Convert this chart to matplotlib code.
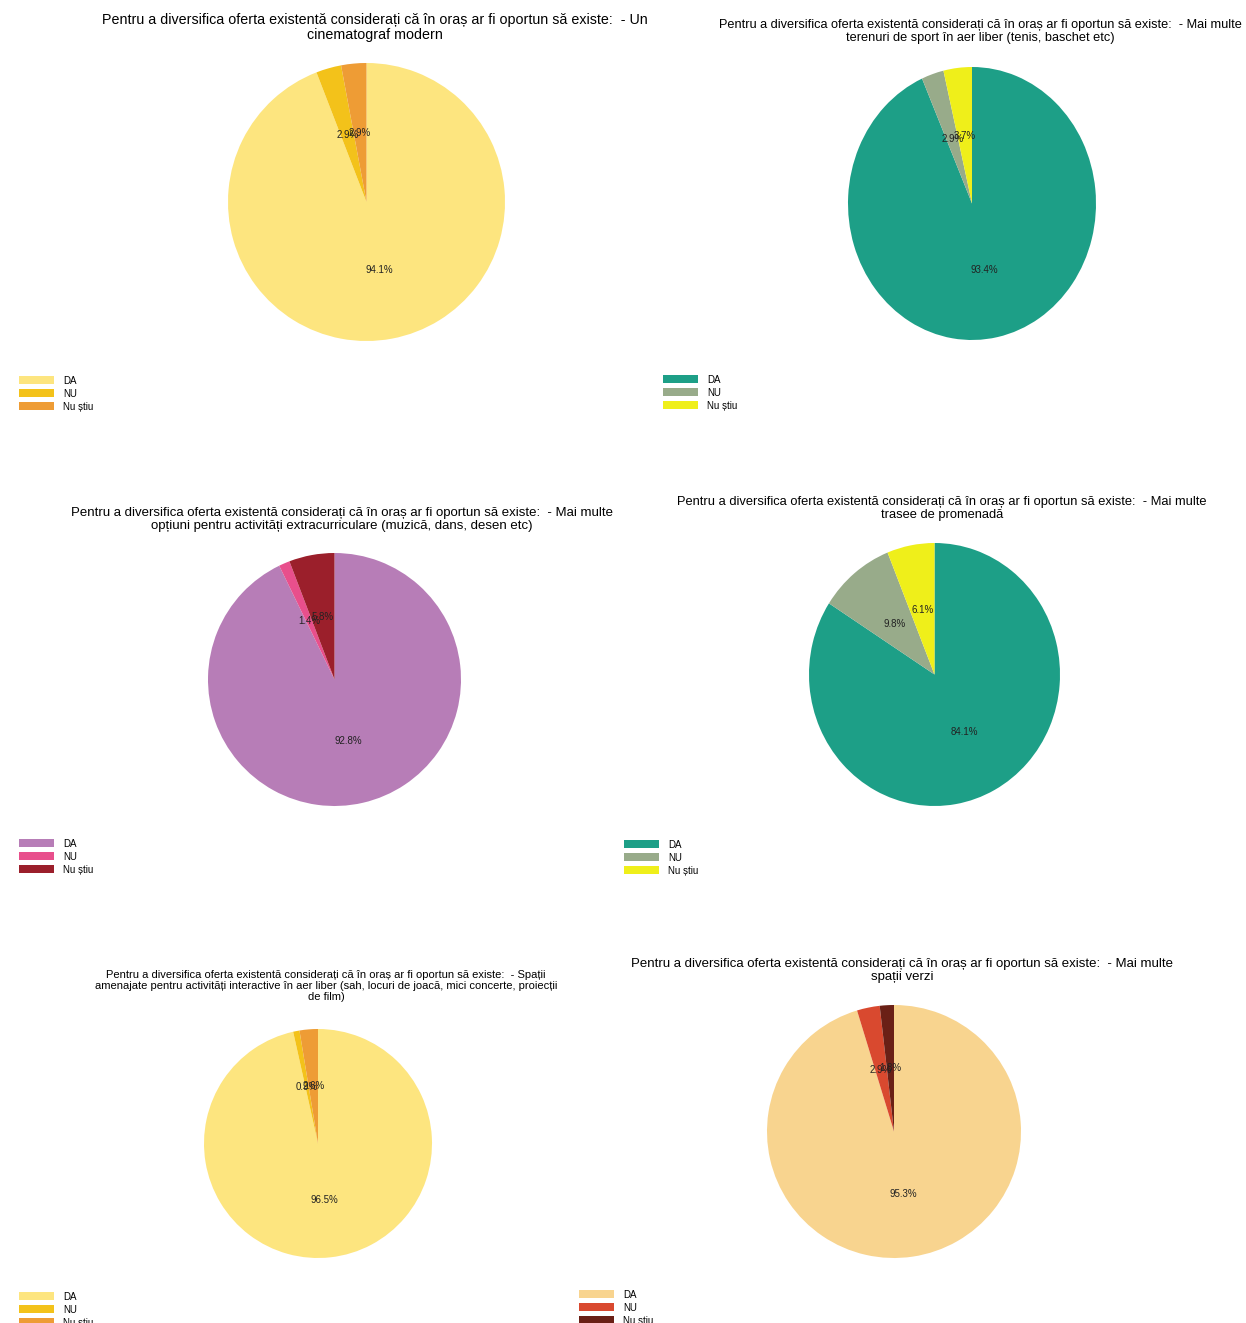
import matplotlib
matplotlib.use("Agg")
import matplotlib.pyplot as plt

W, H = 1246, 1323

labels = ["DA", "NU", "Nu știu"]

q = "Pentru a diversifica oferta existentă considerați că în oraș ar fi oportun să existe:  - "
titles = [
    q + "Un\ncinematograf modern",
    q + "Mai multe\nterenuri de sport în aer liber (tenis, baschet etc)",
    q + "Mai multe\nopțiuni pentru activități extracurriculare (muzică, dans, desen etc)",
    q + "Mai multe\ntrasee de promenadă",
    q + "Spații\namenajate pentru activități interactive în aer liber (sah, locuri de joacă, mici concerte, proiecții\nde film)",
    q + "Mai multe\nspații verzi",
]

vals_cinema = [32, 1, 1]
vals_sport = [93.4, 2.9, 3.7]
vals_extra = [92.8, 1.4, 5.8]
vals_promenada = [84.1, 9.8, 6.1]
vals_interactive = [96.5, 0.9, 2.6]
vals_verzi = [95.3, 2.9, 1.8]
all_vals = [vals_cinema, vals_sport, vals_extra, vals_promenada, vals_interactive, vals_verzi]

yellows = ["#fde57f", "#f3c21a", "#ee9c35"]
teals = ["#1d9f87", "#98ab8a", "#efef1a"]
purples = ["#b77db7", "#e84f8c", "#9b1f2b"]
oranges = ["#f8d48f", "#d9492f", "#6a2016"]
palettes = [yellows, teals, purples, teals, yellows, oranges]

# pixel layout: pie box (left, top, width, height), title (x, top), legend (x, top)
pie_box = [(228, 63, 277, 278), (848, 67, 248, 273), (208, 553, 253, 253),
           (809, 543, 251, 263), (204, 1029, 228, 229), (767, 1005, 254, 253)]
title_pos = [(375, 13), (980, 19), (342, 507), (942, 496), (326, 970), (902, 958)]
title_fs = [10.3, 9.2, 9.5, 9.3, 8.0, 9.5]
legend_pos = [(10, 367), (654, 366), (10, 830), (615, 831), (10, 1283), (570, 1281)]

plt.rcParams["font.family"] = ["Liberation Sans", "DejaVu Sans"]
fig = plt.figure(figsize=(W / 100, H / 100), dpi=100)

for i in range(6):
    l, t, w, h = pie_box[i]
    ax = fig.add_axes([l / W, 1 - (t + h) / H, w / W, h / H])
    wedges, texts, autotexts = ax.pie(all_vals[i], colors=palettes[i], startangle=90,
                                      counterclock=False, autopct="%1.1f%%",
                                      pctdistance=0.5, textprops={"fontsize": 7, "color": "#222222"})
    ax.set_aspect("auto")
    ax.set_xlim(-1, 1)
    ax.set_ylim(-1, 1)
    tx, ty = title_pos[i]
    fig.text(tx / W, 1 - ty / H, titles[i], ha="center", va="top", fontsize=title_fs[i],
             linespacing=1.1)
    lx, ly = legend_pos[i]
    ax.legend(wedges, labels, loc="upper left", bbox_to_anchor=(lx / W, 1 - ly / H),
              bbox_transform=fig.transFigure, frameon=False, fontsize=7,
              handlelength=3.6, handleheight=0.9, labelspacing=0.3, handletextpad=1.0)

fig.savefig("out.png", dpi=100, facecolor="white")
